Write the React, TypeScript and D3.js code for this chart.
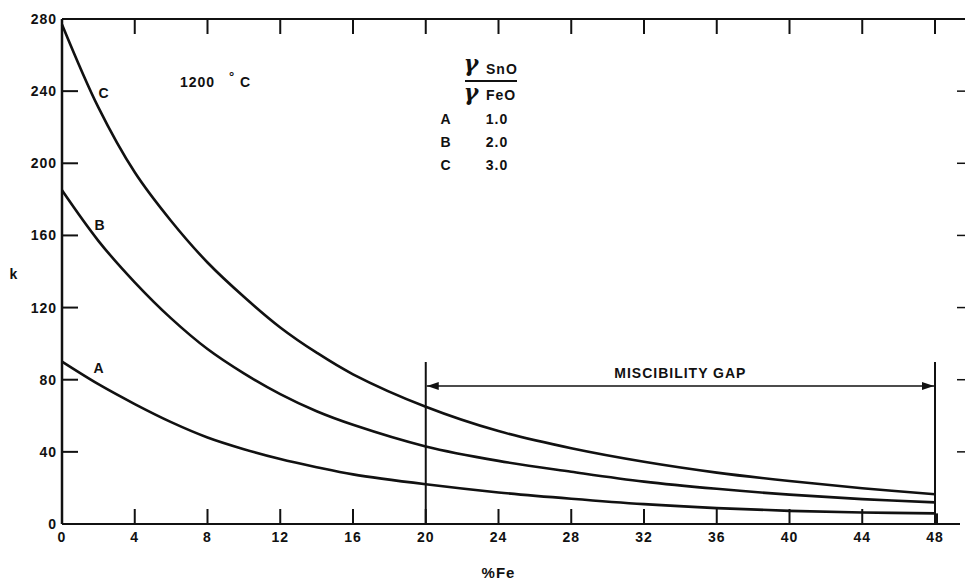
import React from "react";
import * as d3 from "d3";

const xValues = [0, 2, 4, 6, 8, 10, 12, 14, 16, 20, 24, 28, 32, 36, 40, 44, 48];
const seriesA = [90, 77.5, 66.5, 56.5, 48, 41.5, 36, 31.5, 27.5, 22, 17.5, 14, 11, 8.8, 7.3, 6.4, 5.9];
const seriesB = [185, 157, 134, 114, 97, 83.5, 72, 62.5, 55, 43, 35, 29, 23.5, 19.5, 16.3, 13.8, 12];
const seriesC = [277, 231, 195, 168, 145, 126, 109, 95, 83, 65, 51.5, 42, 34.5, 28.5, 23.8, 19.8, 16.5];
const xTicks = [0, 4, 8, 12, 16, 20, 24, 28, 32, 36, 40, 44, 48];
const yTicks = [0, 40, 80, 120, 160, 200, 240, 280];
const legendRows = [
  { key: "A", ratio: "1.0" },
  { key: "B", ratio: "2.0" },
  { key: "C", ratio: "3.0" },
];
const gapStart = 20;
const gapEnd = 48;

const W = 965;
const H = 580;
const FONT = "'Liberation Sans', Arial, Helvetica, sans-serif";

export default function App() {
  const x = d3.scaleLinear().domain([0, 48]).range([62, 935]);
  const y = d3.scaleLinear().domain([0, 280]).range([524, 19]);
  const line = d3
    .line<number>()
    .x((_, i) => x(xValues[i]))
    .y((d) => y(d))
    .curve(d3.curveCatmullRom.alpha(0.5));

  const series = [seriesA, seriesB, seriesC];
  const stroke = "#111";
  const textStyle: React.CSSProperties = {
    fontFamily: FONT,
    fontWeight: 700,
    fontSize: 14,
    letterSpacing: 1,
    fill: "#111",
  };
  const gammaStyle: React.CSSProperties = {
    fontFamily: "'DejaVu Serif', serif",
    fontStyle: "italic",
    fontWeight: 700,
    fontSize: 22,
    fill: "#111",
  };
  const gapY = 386;
  const gapTop = 362;

  return (
    <svg
      width={W}
      height={H}
      style={{ position: "absolute", left: 0, top: 0, background: "#fff" }}
    >
      <defs>
        <marker id="arrowR" viewBox="0 0 12 8" refX="12" refY="4" markerWidth="12" markerHeight="8" markerUnits="userSpaceOnUse" orient="auto">
          <path d="M0,0 L12,4 L0,8 Z" fill="#111" />
        </marker>
        <marker id="arrowL" viewBox="0 0 12 8" refX="0" refY="4" markerWidth="12" markerHeight="8" markerUnits="userSpaceOnUse" orient="auto">
          <path d="M12,0 L0,4 L12,8 Z" fill="#111" />
        </marker>
      </defs>

      {/* axes frame */}
      <line x1={x(0)} x2={x(0)} y1={y(280)} y2={y(0)} stroke={stroke} strokeWidth={2.5} />
      <line x1={x(0)} x2={960} y1={y(0)} y2={y(0)} stroke={stroke} strokeWidth={2} />
      <line x1={x(0)} x2={965} y1={y(280)} y2={y(280)} stroke={stroke} strokeWidth={2} />

      {/* left ticks */}
      {yTicks.map((t) => (
        <g key={"yl" + t}>
          {t > 0 && t < 280 && (
            <line x1={x(0)} x2={x(0) + 16} y1={y(t)} y2={y(t)} stroke={stroke} strokeWidth={2} />
          )}
          <text x={57} y={y(t) + 5} textAnchor="end" style={textStyle}>
            {t}
          </text>
        </g>
      ))}
      {/* right ticks */}
      {yTicks
        .filter((t) => t > 0 && t < 280)
        .map((t) => (
          <line key={"yr" + t} x1={957} x2={965} y1={y(t)} y2={y(t)} stroke={stroke} strokeWidth={1.5} />
        ))}

      {/* bottom and top ticks */}
      {xTicks.map((t) => (
        <g key={"x" + t}>
          {t > 0 && t < 48 && (
            <line x1={x(t)} x2={x(t)} y1={y(0)} y2={y(0) - 15} stroke={stroke} strokeWidth={2} />
          )}
          {t > 0 && (
            <line x1={x(t)} x2={x(t)} y1={y(280)} y2={y(280) + 15} stroke={stroke} strokeWidth={2} />
          )}
          <text x={x(t)} y={542} textAnchor="middle" style={textStyle}>
            {t}
          </text>
        </g>
      ))}

      {/* curves */}
      {series.map((s, i) => (
        <path key={"s" + i} d={line(s) || ""} fill="none" stroke={stroke} strokeWidth={2.6} />
      ))}

      {/* curve labels */}
      <text x={104} y={98} textAnchor="middle" style={textStyle}>C</text>
      <text x={100} y={230} textAnchor="middle" style={textStyle}>B</text>
      <text x={99} y={373} textAnchor="middle" style={textStyle}>A</text>

      {/* miscibility gap */}
      <line x1={x(gapStart)} x2={x(gapStart)} y1={gapTop} y2={y(0)} stroke={stroke} strokeWidth={2} />
      <line x1={x(gapEnd)} x2={x(gapEnd)} y1={gapTop} y2={y(0)} stroke={stroke} strokeWidth={2} />
      <line x1={x(gapEnd) + 1.5} x2={x(gapEnd) + 1.5} y1={y(seriesA[seriesA.length - 1])} y2={y(0)} stroke={stroke} strokeWidth={3} />
      <line
        x1={x(gapStart) + 1}
        x2={x(gapEnd) - 1}
        y1={gapY}
        y2={gapY}
        stroke={stroke}
        strokeWidth={1.6}
        markerStart="url(#arrowL)"
        markerEnd="url(#arrowR)"
      />
      <text x={x(34)} y={378} textAnchor="middle" style={textStyle}>
        MISCIBILITY GAP
      </text>

      {/* temperature */}
      <text x={180} y={87} style={textStyle}>
        1200
      </text>
      <text x={229} y={81} style={{ ...textStyle, fontSize: 13 }}>°</text>
      <text x={240} y={87} style={textStyle}>C</text>

      {/* legend */}
      <text x={471} y={71} textAnchor="middle" style={gammaStyle}>γ</text>
      <text x={486} y={74} style={textStyle}>SnO</text>
      <line x1={465} x2={517} y1={81} y2={81} stroke={stroke} strokeWidth={2} />
      <text x={471} y={100} textAnchor="middle" style={gammaStyle}>γ</text>
      <text x={486} y={100} style={textStyle}>FeO</text>
      {legendRows.map((r, i) => (
        <g key={r.key}>
          <text x={446} y={124 + i * 23} textAnchor="middle" style={textStyle}>
            {r.key}
          </text>
          <text x={497} y={124 + i * 23} textAnchor="middle" style={textStyle}>
            {r.ratio}
          </text>
        </g>
      ))}

      {/* axis titles */}
      <text x={14} y={279} textAnchor="middle" style={textStyle}>k</text>
      <text x={x(24)} y={578} textAnchor="middle" style={{ ...textStyle, fontSize: 15 }}>%Fe</text>
    </svg>
  );
}
